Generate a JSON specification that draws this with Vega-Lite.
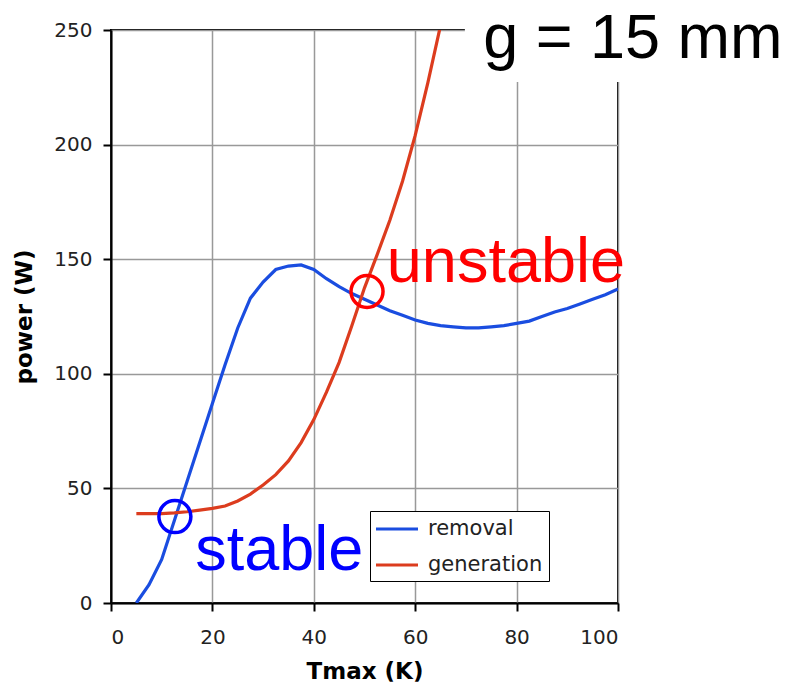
{
  "$schema": "https://vega.github.io/schema/vega-lite/v6.json",
  "width": 507,
  "height": 573,
  "autosize": "none",
  "padding": {"left": 111, "top": 30, "right": 170, "bottom": 88},
  "background": "white",
  "config": {
    "view": {"stroke": "black", "strokeWidth": 2},
    "axis": {
      "labelFont": "DejaVu Sans",
      "labelFontSize": 20,
      "labelColor": "#222222",
      "titleFont": "DejaVu Sans",
      "titleFontSize": 23,
      "titleFontWeight": "bold",
      "titleColor": "black",
      "domainColor": "black",
      "domainWidth": 2,
      "tickColor": "black",
      "tickWidth": 2,
      "tickSize": 8,
      "gridColor": "#999999",
      "gridWidth": 1.5,
      "gridOpacity": 1
    }
  },
  "datasets": {
    "curves": [
      {"series": "removal", "T": 5, "P": 0},
      {"series": "removal", "T": 7.5, "P": 8},
      {"series": "removal", "T": 10, "P": 19},
      {"series": "removal", "T": 12.5, "P": 36},
      {"series": "removal", "T": 15, "P": 53},
      {"series": "removal", "T": 17.5, "P": 70},
      {"series": "removal", "T": 20, "P": 87},
      {"series": "removal", "T": 22.5, "P": 104},
      {"series": "removal", "T": 25, "P": 120},
      {"series": "removal", "T": 27.5, "P": 133},
      {"series": "removal", "T": 30, "P": 140},
      {"series": "removal", "T": 32.5, "P": 145.5},
      {"series": "removal", "T": 35, "P": 147},
      {"series": "removal", "T": 37.5, "P": 147.5},
      {"series": "removal", "T": 40, "P": 145.5},
      {"series": "removal", "T": 42.5, "P": 141.5},
      {"series": "removal", "T": 45, "P": 138},
      {"series": "removal", "T": 47.5, "P": 135},
      {"series": "removal", "T": 50, "P": 132.5},
      {"series": "removal", "T": 52.5, "P": 130},
      {"series": "removal", "T": 55, "P": 127.5},
      {"series": "removal", "T": 57.5, "P": 125.5},
      {"series": "removal", "T": 60, "P": 123.5},
      {"series": "removal", "T": 62.5, "P": 122},
      {"series": "removal", "T": 65, "P": 121},
      {"series": "removal", "T": 67.5, "P": 120.5},
      {"series": "removal", "T": 70, "P": 120},
      {"series": "removal", "T": 72.5, "P": 120},
      {"series": "removal", "T": 75, "P": 120.5},
      {"series": "removal", "T": 77.5, "P": 121},
      {"series": "removal", "T": 80, "P": 122},
      {"series": "removal", "T": 82.5, "P": 123},
      {"series": "removal", "T": 85, "P": 125},
      {"series": "removal", "T": 87.5, "P": 127},
      {"series": "removal", "T": 90, "P": 128.5},
      {"series": "removal", "T": 92.5, "P": 130.5},
      {"series": "removal", "T": 95, "P": 132.5},
      {"series": "removal", "T": 97.5, "P": 134.5},
      {"series": "removal", "T": 100, "P": 137},
      {"series": "generation", "T": 5, "P": 39},
      {"series": "generation", "T": 7.5, "P": 39},
      {"series": "generation", "T": 10, "P": 39},
      {"series": "generation", "T": 12.5, "P": 39.3},
      {"series": "generation", "T": 15, "P": 39.8},
      {"series": "generation", "T": 17.5, "P": 40.5},
      {"series": "generation", "T": 20, "P": 41.3},
      {"series": "generation", "T": 22.5, "P": 42.3},
      {"series": "generation", "T": 25, "P": 44.5},
      {"series": "generation", "T": 27.5, "P": 47.5},
      {"series": "generation", "T": 30, "P": 51.5},
      {"series": "generation", "T": 32.5, "P": 56},
      {"series": "generation", "T": 35, "P": 62},
      {"series": "generation", "T": 37.5, "P": 70},
      {"series": "generation", "T": 40, "P": 80},
      {"series": "generation", "T": 42.5, "P": 92},
      {"series": "generation", "T": 45, "P": 105},
      {"series": "generation", "T": 47.5, "P": 121},
      {"series": "generation", "T": 50, "P": 137.5},
      {"series": "generation", "T": 52.5, "P": 152},
      {"series": "generation", "T": 55, "P": 167},
      {"series": "generation", "T": 57.5, "P": 184},
      {"series": "generation", "T": 60, "P": 204},
      {"series": "generation", "T": 62.5, "P": 227},
      {"series": "generation", "T": 65, "P": 252}
    ],
    "points": [
      {"kind": "stable", "T": 12.6, "P": 37.7},
      {"kind": "unstable", "T": 50.5, "P": 135.9}
    ],
    "one": [{"note": "annotation"}]
  },
  "layer": [
    {
      "data": {"name": "curves"},
      "mark": {"type": "line", "strokeWidth": 3.2, "clip": true},
      "encoding": {
        "x": {
          "field": "T", "type": "quantitative",
          "scale": {"domain": [0, 100], "nice": false},
          "axis": {"values": [0, 20, 40, 60, 80, 100], "title": "Tmax (K)", "labelPadding": 16, "titlePadding": 13}
        },
        "y": {
          "field": "P", "type": "quantitative",
          "scale": {"domain": [0, 250], "nice": false},
          "axis": {"values": [0, 50, 100, 150, 200, 250], "title": "power (W)", "labelPadding": 11, "titlePadding": 17}
        },
        "color": {
          "field": "series", "type": "nominal",
          "scale": {"domain": ["removal", "generation"], "range": ["#1a4de0", "#dc3c1e"]},
          "legend": {
            "orient": "none", "legendX": 259, "legendY": 481,
            "title": null,
            "strokeColor": "black", "fillColor": "white",
            "padding": 6,
            "symbolType": "M-2,0H2", "symbolSize": 441, "symbolStrokeWidth": 3,
            "symbolOffset": 9,
            "labelFont": "DejaVu Sans", "labelFontSize": 21, "labelColor": "#222222",
            "labelOffset": 19, "rowPadding": 14
          }
        },
        "order": {"field": "T", "type": "quantitative"}
      }
    },
    {
      "data": {"name": "one"},
      "mark": {"type": "rect", "fill": "white", "clip": false},
      "encoding": {
        "x": {"datum": 69.8, "type": "quantitative"},
        "x2": {"datum": 140},
        "y": {"datum": 227.3, "type": "quantitative"},
        "y2": {"datum": 290}
      }
    },
    {
      "data": {"name": "one"},
      "mark": {"type": "text", "align": "left", "baseline": "alphabetic", "font": "Liberation Sans", "fontSize": 63, "color": "black", "text": "g = 15 mm", "clip": false},
      "encoding": {
        "x": {"datum": 73.4, "type": "quantitative"},
        "y": {"datum": 237.8, "type": "quantitative"}
      }
    },
    {
      "data": {"name": "points"},
      "mark": {"type": "point", "shape": "circle", "filled": false, "size": 1024, "strokeWidth": 3.5, "opacity": 1},
      "encoding": {
        "x": {"field": "T", "type": "quantitative"},
        "y": {"field": "P", "type": "quantitative"},
        "stroke": {
          "field": "kind", "type": "nominal",
          "scale": {"domain": ["stable", "unstable"], "range": ["#0000ff", "#ff0000"]},
          "legend": null
        }
      }
    },
    {
      "data": {"name": "one"},
      "mark": {"type": "text", "align": "left", "baseline": "alphabetic", "font": "Liberation Sans", "fontSize": 63, "color": "#0000ff", "text": "stable"},
      "encoding": {
        "x": {"datum": 16.6, "type": "quantitative"},
        "y": {"datum": 14.4, "type": "quantitative"}
      }
    },
    {
      "data": {"name": "one"},
      "mark": {"type": "text", "align": "left", "baseline": "alphabetic", "font": "Liberation Sans", "fontSize": 63, "color": "#ff0000", "text": "unstable"},
      "encoding": {
        "x": {"datum": 54.4, "type": "quantitative"},
        "y": {"datum": 140, "type": "quantitative"}
      }
    }
  ]
}
